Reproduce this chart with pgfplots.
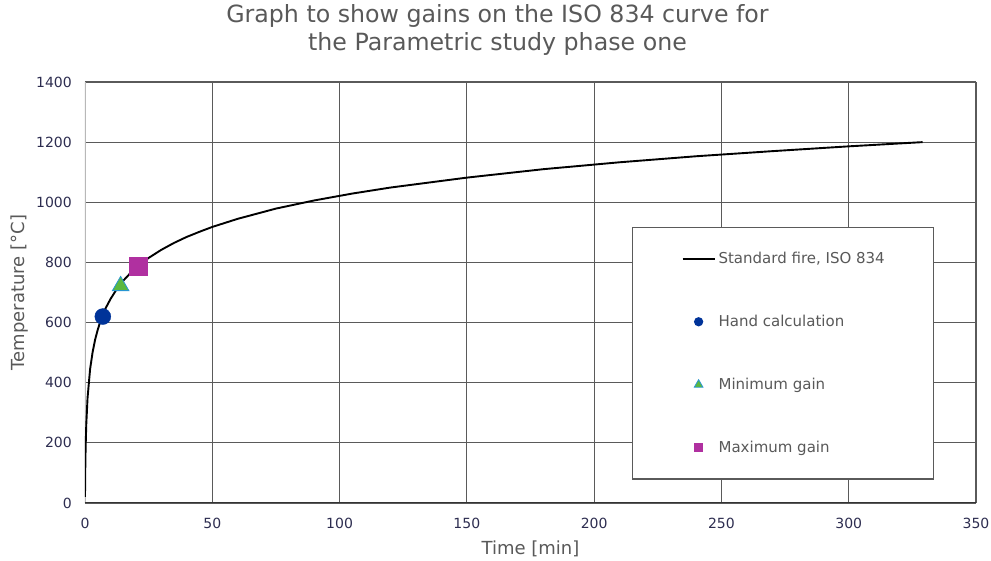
\documentclass[border=0pt]{standalone}
\usepackage{fontspec}
\setmainfont{DejaVu Sans}
\usepackage{pgfplots}
\pgfplotsset{compat=1.18}
\definecolor{titlegray}{RGB}{89,89,89}
\definecolor{tickcol}{RGB}{45,45,80}
\definecolor{gridcol}{RGB}{90,90,90}
\definecolor{hand}{RGB}{0,51,153}
\definecolor{mingreen}{RGB}{92,184,62}
\definecolor{minedge}{RGB}{40,150,210}
\definecolor{maxmag}{RGB}{176,48,160}
\pgfplotsset{
  legmark/.style={legend image code/.code={\path (0pt,0pt) (32pt,0pt); \draw[##1, mark size=#1] plot coordinates {(16pt,0pt)};}},
  legline/.style={legend image code/.code={\draw[black, line width=1.9pt] (0pt,0pt) -- (32pt,0pt);}},
}
\begin{document}
\begin{tikzpicture}
\path[use as bounding box] (-85pt,-58pt) rectangle (906pt,503pt);
\begin{axis}[
  at={(0pt,0pt)}, anchor=south west,
  scale only axis, width=891pt, height=421pt,
  xmin=0, xmax=350, ymin=0, ymax=1400,
  xtick={50,100,...,350}, extra x ticks={0}, extra x tick style={grid=none},
  ytick={0,200,...,1400},
  grid=major, major grid style={gridcol, line width=1.2pt},
  axis line style={draw=none},
  major tick length=0pt,
  /pgf/number format/assume math mode=true,
  /pgf/number format/1000 sep={},
  tick label style={font=\fontsize{14}{16}\selectfont, text=tickcol, inner sep=0pt},
  yticklabel shift=13pt,
  xticklabel shift=15pt,
  title={Graph to show gains on the ISO 834 curve for\\the Parametric study phase one},
  title style={align=center, font=\fontsize{23.7}{28}\selectfont, text=titlegray,
    at={(axis description cs:0.5,1)}, anchor=south, inner sep=0pt, xshift=-33pt, yshift=20pt},
  xlabel={Time [min]},
  ylabel={Temperature [°C]},
  xlabel style={font=\fontsize{18}{20}\selectfont, text=titlegray, at={(axis description cs:0.5,-0.109)}, anchor=center},
  ylabel style={font=\fontsize{18}{20}\selectfont, text=titlegray, at={(axis description cs:-0.0735,0.5)}, anchor=center},
  legend cell align=left,
  legend style={at={(0.614,0.656)}, anchor=north west, draw=gridcol, line width=1.2pt, fill=white,
    font=\fontsize{15}{17}\selectfont, text=titlegray,
    inner xsep=49pt, inner ysep=25pt, row sep=50pt, nodes={inner sep=0pt},
    /tikz/every odd column/.append style={column sep=3pt}},
]
\draw[line width=1.6pt, black!28] (rel axis cs:0,0) -- (rel axis cs:0,1);
\draw[line width=1.4pt, black!80] (rel axis cs:0,0) -- (rel axis cs:1,0);
\addplot[black, line width=1.9pt, legline]
  coordinates {
  (0,20) (0.05,70) (0.1,108) (0.25,185) (0.5,261) (1,349) (2,445) (3,502) (4,544)
  (5,576) (6,603) (7,626) (8,646) (10,678) (12,705) (15,739) (18,766) (20,781) (25,815)
  (30,842) (35,865) (40,885) (45,902) (50,918) (60,945) (75,979) (90,1006) (105,1029)
  (120,1049) (150,1082) (180,1110) (210,1133) (240,1153) (270,1170) (300,1186) (329,1200)
  };
\addlegendentry{Standard fire, ISO 834}
\addplot[only marks, mark=*, mark size=8pt, draw=hand, fill=hand, legmark=4pt]
  coordinates {(7,620)};
\addlegendentry{Hand calculation}
\addplot[only marks, mark=triangle*, mark size=9.5pt, draw=minedge, fill=mingreen, line width=0.8pt, legmark=5pt]
  coordinates {(14,722)};
\addlegendentry{Minimum gain}
\addplot[only marks, mark=square*, mark size=9pt, draw=maxmag, fill=maxmag, legmark=4pt]
  coordinates {(21,789)};
\addlegendentry{Maximum gain}
\end{axis}
\end{tikzpicture}
\end{document}
